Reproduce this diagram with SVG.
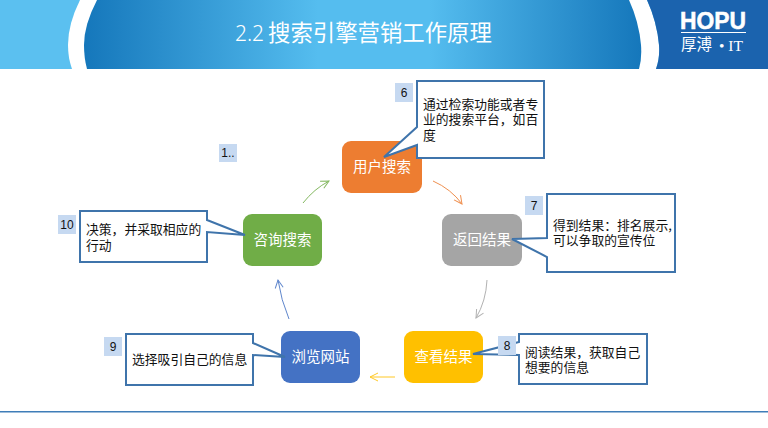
<svg xmlns="http://www.w3.org/2000/svg" width="768" height="428" viewBox="0 0 768 428">
<style>
text{font-family:"Noto Sans CJK SC","Noto Sans",sans-serif}
.n{fill:#fff;font-size:14.5px;text-anchor:middle}
.c{fill:#fff;stroke:#3f74ab;stroke-width:2}
.t{fill:#111;font-size:12.8px}
.b{fill:#c6d9f1}
.bt{fill:#111;font-size:12px;text-anchor:middle;font-family:"Liberation Sans",sans-serif}
.a{fill:none;stroke-width:1;opacity:.85;marker-end:url(#ah)}
</style>
<defs>
<linearGradient id="hg" x1="0" x2="1" y1="0" y2="0">
<stop offset="0" stop-color="#1577bb"/><stop offset="0.42" stop-color="#55bdef"/><stop offset="0.62" stop-color="#55bdef"/><stop offset="1" stop-color="#1577bb"/>
</linearGradient>
<marker id="ah" viewBox="0 0 10 10" refX="9" refY="5" markerWidth="10" markerHeight="10" markerUnits="userSpaceOnUse" orient="auto"><path d="M1,1L9,5L1,9" fill="none" stroke="context-stroke" stroke-width="1"/></marker>
</defs>
<rect width="768" height="428" fill="#fff"/>
<g id="header">
<rect width="768" height="69" fill="#5bc0f0"/>
<path d="M80,0Q68,24 68,45Q68,58 72,69L656,69Q660,58 659,45Q657,22 647,0Z" fill="#fff"/>
<path d="M97,0Q84,25 84,45Q84,58 87,69L639,69Q642,58 641,45Q639,22 629,0Z" fill="url(#hg)"/>
<path d="M647,0Q657,22 659,45Q660,58 656,69L768,69L768,0Z" fill="#1b63ae"/>
<text x="235" y="41" fill="#fff" font-size="21" style="font-family:'Noto Sans',sans-serif;font-weight:300">2.2</text>
<text x="268" y="41" fill="#fff" font-size="22.400">搜索引擎营销工作原理</text>
<text x="680" y="28.500" fill="#fff" font-size="23" font-weight="700" stroke="#fff" stroke-width=".5" textLength="66" lengthAdjust="spacingAndGlyphs" style="font-family:'Liberation Sans',sans-serif">HOPU</text>
<rect x="681" y="32" width="65" height="1" fill="#fff"/>
<text x="681" y="50" fill="#fff" font-size="15.500">厚溥</text>
<text x="719" y="51" fill="#fff" font-size="15.500" style="font-family:'Liberation Serif',serif">• IT</text>
</g>
<g id="connectors">
<path class="a" stroke="#70ad47" d="M303,203Q314,189 329,181"/>
<path class="a" stroke="#ed7d31" d="M433,181Q451,189 462,204"/>
<path class="a" stroke="#a5a5a5" d="M487,280Q486,301 476,318"/>
<path class="a" stroke="#ffc000" d="M395,377L370,377"/>
<path class="a" stroke="#4472c4" d="M289,319Q281,300 278,280"/>
</g>
<g id="node-search"><rect x="342" y="141" width="80" height="52" rx="9" fill="#ed7d31"/><text class="n" x="382" y="172">用户搜索</text></g>
<g id="node-result"><rect x="442" y="214" width="80" height="52" rx="9" fill="#a5a5a5"/><text class="n" x="482" y="245">返回结果</text></g>
<g id="node-view"><rect x="404" y="331" width="79" height="52" rx="9" fill="#ffc000"/><text class="n" x="443.500" y="362">查看结果</text></g>
<g id="node-browse"><rect x="281" y="331" width="79" height="52" rx="9" fill="#4472c4"/><text class="n" x="320.500" y="362">浏览网站</text></g>
<g id="node-consult"><rect x="243" y="214" width="79" height="52" rx="9" fill="#70ad47"/><text class="n" x="282.500" y="245">咨询搜索</text></g>
<g id="callout-6"><path class="c" d="M417,81H544V158H417V145L384,157L417,127Z"/>
<text class="t" x="423" y="109">通过检索功能或者专<tspan x="423" dy="15">业的搜索平台，如百</tspan><tspan x="423" dy="16">度</tspan></text>
<rect class="b" x="395" y="83" width="18" height="19"/><text class="bt" x="404" y="97">6</text></g>
<g id="callout-7"><path class="c" d="M547,194H675V272H547V257L512,239L547,238Z"/>
<text class="t" x="553" y="230">得到结果：排名展示,<tspan x="553" dy="15">可以争取的宣传位</tspan></text>
<rect class="b" x="525" y="196" width="18" height="19"/><text class="bt" x="534" y="210">7</text></g>
<g id="callout-8"><path class="c" d="M519,334H647V384H519V355L473,354L519,342Z"/>
<text class="t" x="525" y="357">阅读结果，获取自己<tspan x="525" dy="15">想要的信息</tspan></text>
<rect class="b" x="498" y="336" width="18" height="19"/><text class="bt" x="507" y="350">8</text></g>
<g id="callout-9"><path class="c" d="M126,334H253V343L285,357L253,355V385H126Z"/>
<text class="t" x="132" y="364">选择吸引自己的信息</text>
<rect class="b" x="104" y="337" width="18" height="19"/><text class="bt" x="113" y="351">9</text></g>
<g id="callout-10"><path class="c" d="M80,211H207V220L245,235L207,232V262H80Z"/>
<text class="t" x="86" y="234">决策，并采取相应的<tspan x="86" dy="16">行动</tspan></text>
<rect class="b" x="58" y="215" width="18" height="19"/><text class="bt" x="67" y="229">10</text></g>
<g id="note-1"><rect class="b" x="219" y="144" width="18" height="18"/><text class="bt" x="228" y="157">1..</text></g>
<rect id="footer-line" x="0" y="411" width="768" height="1.500" fill="#3f7db8"/>
</svg>
